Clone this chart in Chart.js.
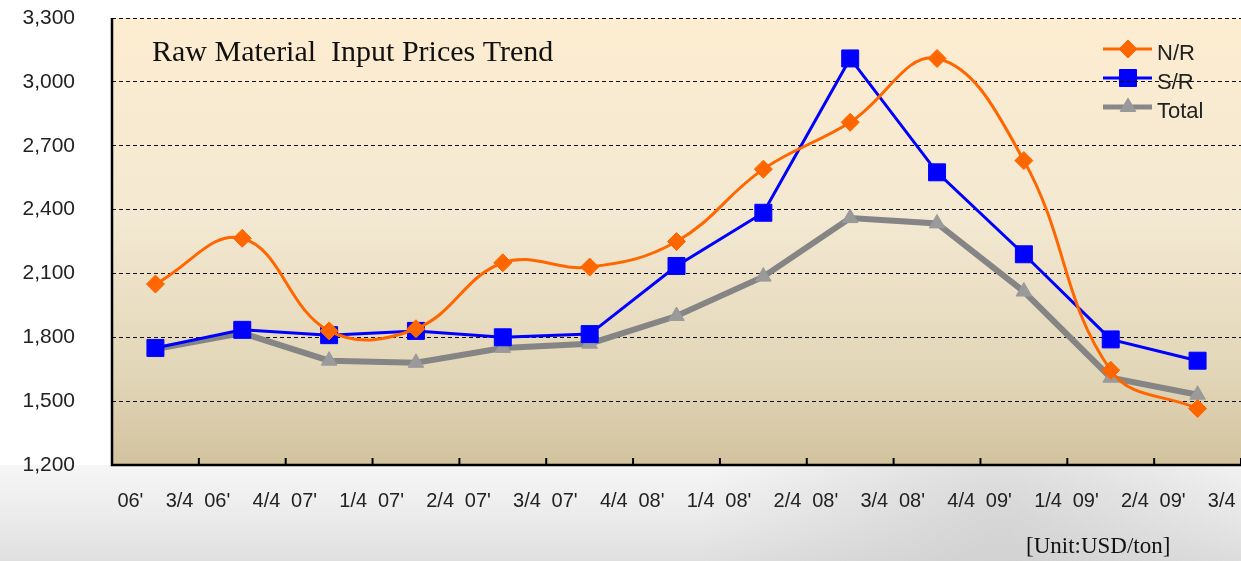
<!DOCTYPE html>
<html>
<head>
<meta charset="utf-8">
<script src="https://cdn.jsdelivr.net/npm/chart.js@4"></script>
<style>
  html, body { margin: 0; padding: 0; background: #ffffff; }
  #rawChart { display: block; }
</style>
</head>
<body>
<canvas id="rawChart" width="1241" height="561"></canvas>
<script>
// chart data
const categories = ["06'    3/4", "06'    4/4", "07'    1/4", "07'    2/4", "07'    3/4", "07'    4/4",
                    "08'    1/4", "08'    2/4", "08'    3/4", "08'    4/4", "09'    1/4", "09'    2/4", "09'    3/4"];
const nrValues    = [2050, 2265, 1830, 1840, 2150, 2130, 2250, 2590, 2810, 3110, 2630, 1645, 1465];
const srValues    = [1750, 1835, 1810, 1830, 1800, 1815, 2135, 2385, 3110, 2575, 2190, 1790, 1690];
const totalValues = [1745, 1820, 1690, 1680, 1750, 1770, 1900, 2085, 2360, 2335, 2015, 1610, 1530];
const yMin = 1200, yMax = 3300, yStep = 300;
const seriesNames = ["N/R", "S/R", "Total"];

const titleText = "Raw Material  Input Prices Trend";
const unitText = "[Unit:USD/ton]";

// legend look, one entry per series
const legendItems = [
    { name: seriesNames[0], line: "#ff6600", fill: "#ff6600", width: 3, style: "rectRot", r: 9 },
    { name: seriesNames[1], line: "#0000ff", fill: "#0000ff", width: 3, style: "rect", r: 12 },
    { name: seriesNames[2], line: "#888888", fill: "#999999", width: 5, style: "triangle", r: 9 }
];

// background, title, legend, axes
const decorPlugin = {
    id: 'decor',
    beforeDraw(chart) {
        const { ctx, chartArea: a, width, height } = chart;
        ctx.save();

        // page background (white with a soft grey wash at the bottom)
        ctx.fillStyle = "#ffffff";
        ctx.fillRect(0, 0, width, height);
        let g = ctx.createLinearGradient(0, a.bottom, 0, height);
        g.addColorStop(0, "rgba(225,225,225,0.3)");
        g.addColorStop(1, "rgba(215,215,215,0.8)");
        ctx.fillStyle = g;
        ctx.fillRect(0, a.bottom, width, height - a.bottom);
        let rg = ctx.createRadialGradient(1000, 520, 10, 1000, 520, 300);
        rg.addColorStop(0, "rgba(190,190,190,0.45)");
        rg.addColorStop(1, "rgba(190,190,190,0)");
        ctx.fillStyle = rg;
        ctx.fillRect(0, a.bottom, width, height - a.bottom);

        // plot area gradient
        g = ctx.createLinearGradient(0, a.top, 0, a.bottom);
        g.addColorStop(0, "#fdedd1");
        g.addColorStop(0.45, "#f3e8d1");
        g.addColorStop(0.8, "#e2d6b8");
        g.addColorStop(1, "#d2c29e");
        ctx.fillStyle = g;
        ctx.fillRect(a.left, a.top, a.right - a.left, a.bottom - a.top);

        // title
        ctx.fillStyle = "#111111";
        ctx.font = "30px 'Liberation Serif', serif";
        ctx.textBaseline = "alphabetic";
        ctx.textAlign = "left";
        ctx.fillText(titleText, 152, 61);

        // legend
        const ly = [49, 78, 107];
        legendItems.forEach((it, i) => {
            ctx.strokeStyle = it.line;
            ctx.lineWidth = it.width;
            ctx.beginPath();
            ctx.moveTo(1103, ly[i]);
            ctx.lineTo(1152, ly[i]);
            ctx.stroke();
            ctx.fillStyle = it.fill;
            ctx.strokeStyle = it.fill;
            ctx.lineWidth = 1;
            Chart.helpers.drawPoint(ctx, { pointStyle: it.style, radius: it.r, rotation: 0, borderWidth: 1 }, 1128, ly[i]);
            ctx.fillStyle = "#222222";
            ctx.font = "22px 'Liberation Sans', Arial, sans-serif";
            ctx.textBaseline = "middle";
            ctx.fillText(it.name, 1157, ly[i] + 5);
        });
        ctx.restore();
    },
    afterDraw(chart) {
        const { ctx, chartArea: a } = chart;
        const x = chart.scales.x;
        ctx.save();
        ctx.strokeStyle = "#000000";
        ctx.lineWidth = 2.5;
        ctx.beginPath();
        ctx.moveTo(a.left, a.top);
        ctx.lineTo(a.left, a.bottom);
        ctx.lineTo(a.right, a.bottom);
        ctx.stroke();

        // short inward ticks at category boundaries
        ctx.lineWidth = 2;
        for (let i = 1; i <= categories.length; i++) {
            const px = x.getPixelForValue(i - 1) + x.width / categories.length / 2;
            ctx.beginPath();
            ctx.moveTo(px, a.bottom);
            ctx.lineTo(px, a.bottom - 7);
            ctx.stroke();
        }

        // unit note
        ctx.fillStyle = "#111111";
        ctx.font = "23px 'Liberation Serif', serif";
        ctx.textAlign = "left";
        ctx.textBaseline = "alphabetic";
        ctx.fillText(unitText, 1026, 553);
        ctx.restore();
    }
};

window.onload = function() {
    const ctx = document.getElementById('rawChart').getContext('2d');

    new Chart(ctx, {
        type: 'line',
        data: {
            labels: categories,
            datasets: [
                {
                    label: seriesNames[0],
                    data: nrValues,
                    borderColor: "#ff6600",
                    backgroundColor: "#ff6600",
                    borderWidth: 3,
                    tension: 0.4,
                    pointStyle: 'rectRot',
                    pointRadius: 9,
                    pointBorderWidth: 1
                },
                {
                    label: seriesNames[1],
                    data: srValues,
                    borderColor: "#0000ff",
                    backgroundColor: "#0000ff",
                    borderWidth: 3,
                    tension: 0,
                    pointStyle: 'rect',
                    pointRadius: 12,
                    pointBorderWidth: 1
                },
                {
                    label: seriesNames[2],
                    data: totalValues,
                    borderColor: "#858585",
                    backgroundColor: "#9a9a9a",
                    pointBorderColor: "#9a9a9a",
                    borderWidth: 6,
                    tension: 0,
                    pointStyle: 'triangle',
                    pointRadius: 9,
                    pointBorderWidth: 1
                }
            ]
        },
        options: {
            responsive: false,
            animation: false,
            layout: { autoPadding: false, padding: { top: 18, right: 0, left: 0, bottom: 0 } },
            plugins: {
                legend: { display: false },
                tooltip: { enabled: false }
            },
            scales: {
                x: {
                    offset: true,
                    grid: { display: false, drawTicks: false },
                    border: { display: false },
                    ticks: {
                        color: "#222222",
                        padding: 24,
                        maxRotation: 0,
                        autoSkip: false,
                        font: { family: "'Liberation Sans', Arial, sans-serif", size: 20 }
                    },
                    afterFit(scale) { scale.height = 96; scale.paddingLeft = 0; scale.paddingRight = 0; }
                },
                y: {
                    min: yMin,
                    max: yMax,
                    grid: { color: "#111111", lineWidth: 1, drawTicks: false },
                    border: { display: false, dash: [4, 3] },
                    ticks: {
                        stepSize: yStep,
                        color: "#222222",
                        padding: 37,
                        font: { family: "'Liberation Sans', Arial, sans-serif", size: 21 },
                        callback: v => v.toLocaleString('en-US')
                    },
                    afterFit(scale) { scale.width = 112; scale.paddingTop = 0; scale.paddingBottom = 0; }
                }
            }
        },
        plugins: [decorPlugin]
    });
};
</script>
</body>
</html>
